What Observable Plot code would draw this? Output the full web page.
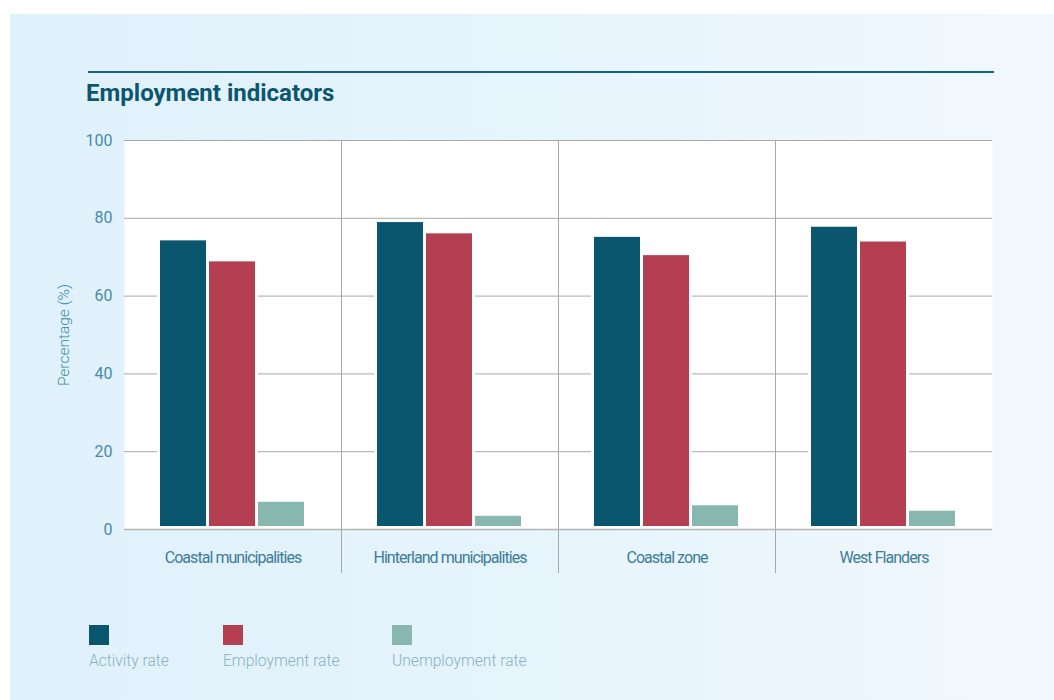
<!DOCTYPE html>
<html>
<head>
<meta charset="utf-8">
<script src="https://cdn.jsdelivr.net/npm/d3@7"></script>
<script src="https://cdn.jsdelivr.net/npm/@observablehq/plot@0.6"></script>
<style>
  html, body { margin: 0; padding: 0; background: #ffffff; width: 1054px; height: 700px; overflow: hidden; font-family: Roboto, "Noto Sans", sans-serif; }
  #panel { position: absolute; left: 10px; top: 14px; width: 1044px; height: 686px;
    background: linear-gradient(90deg, #dff1fb 0%, #e6f4fc 50%, #f1f8fd 100%); }
  #topline { position: absolute; left: 88px; top: 71px; width: 906px; height: 2px; background: #15637f; }
  #title { position: absolute; left: 86px; top: 81px; margin: 0; font-size: 24px; line-height: 24px; font-weight: 700; color: #0c5670; }
  #chart { position: absolute; left: 0; top: 120px; }
  #legend .sw { position: absolute; width: 20px; height: 20px; top: 625px; }
  #legend .lb { position: absolute; top: 654px; font-size: 15.6px; line-height: 15px; font-weight: 300; color: #88b2c3; white-space: nowrap; }
  [aria-label="fx-axis tick label"] text { letter-spacing: -0.95px; }
</style>
</head>
<body>
<div id="panel"></div>
<div id="topline"></div>
<h2 id="title">Employment indicators</h2>
<div id="chart"></div>
<div id="legend"></div>
<script>
const categories = ["Coastal municipalities", "Hinterland municipalities", "Coastal zone", "West Flanders"];
const seriesNames = ["Activity rate", "Employment rate", "Unemployment rate"];
const activityRate = [74.2, 78.9, 75.1, 77.7];
const employmentRate = [68.8, 76.0, 70.4, 73.9];
const unemploymentRate = [7.0, 3.4, 6.1, 4.7];
const seriesColors = ["#09566e", "#b33f51", "#88b7b0"];
const yTicks = [0, 20, 40, 60, 80, 100];
const yLabel = "Percentage (%)";

const seriesValues = [activityRate, employmentRate, unemploymentRate];
const rows = [];
categories.forEach((c, i) => {
  seriesNames.forEach((s, j) => rows.push({category: c, series: s, value: seriesValues[j][i]}));
});

let sepCount = 0;
const skipFirst = (index, scales, values, dims, ctx, next) => (sepCount++ === 0 ? null : next(index, scales, values, dims, ctx));

const chart = Plot.plot({
  width: 1054,
  height: 470,
  marginTop: 20,
  marginLeft: 122,
  marginRight: 61,
  marginBottom: 61,
  style: {background: "transparent", fontFamily: "Roboto, sans-serif", fontSize: "16px", color: "#4a8aa6"},
  fx: {domain: categories, padding: 0, label: null},
  x: {domain: seriesNames, paddingInner: 0.06, paddingOuter: 0.72, axis: null},
  y: {domain: [0, 100], label: null},
  color: {domain: seriesNames, range: seriesColors},
  marks: [
    Plot.frame({fill: "white", stroke: "none"}),
    Plot.gridY(yTicks, {stroke: "#a8a8a8", strokeOpacity: 1, strokeWidth: 1}),
    Plot.frame({anchor: "left", stroke: "#a8a8a8", strokeOpacity: 1, insetBottom: -43, render: skipFirst}),
    Plot.barY(rows, {fx: "category", x: "series", y: "value", fill: "series", stroke: "white", strokeWidth: 6, paintOrder: "stroke", insetBottom: 3}),
    Plot.ruleY([0], {stroke: "#b5b5b5", strokeWidth: 1.5}),
    Plot.axisY(yTicks, {tickSize: 0, tickPadding: 12, label: null, fill: "#4a8aa6", fontWeight: 400}),
    Plot.axisY({ticks: [], tickSize: 0, label: yLabel, labelAnchor: "center", labelArrow: "none", labelOffset: 67, fontSize: 15.5, fill: "#3f89a6", fontWeight: 300}),
    Plot.axisFx({anchor: "bottom", tickSize: 0, tickPadding: 22, label: null, fill: "#3e7c97", fontSize: 16, fontWeight: 400})
  ]
});
document.getElementById("chart").appendChild(chart);

const legendX = [89, 223, 392];
const legend = document.getElementById("legend");
seriesNames.forEach((s, i) => {
  const sw = document.createElement("div");
  sw.className = "sw";
  sw.style.left = legendX[i] + "px";
  sw.style.background = seriesColors[i];
  legend.appendChild(sw);
  const lb = document.createElement("div");
  lb.className = "lb";
  lb.style.left = legendX[i] + "px";
  lb.textContent = s;
  legend.appendChild(lb);
});
</script>
</body>
</html>
